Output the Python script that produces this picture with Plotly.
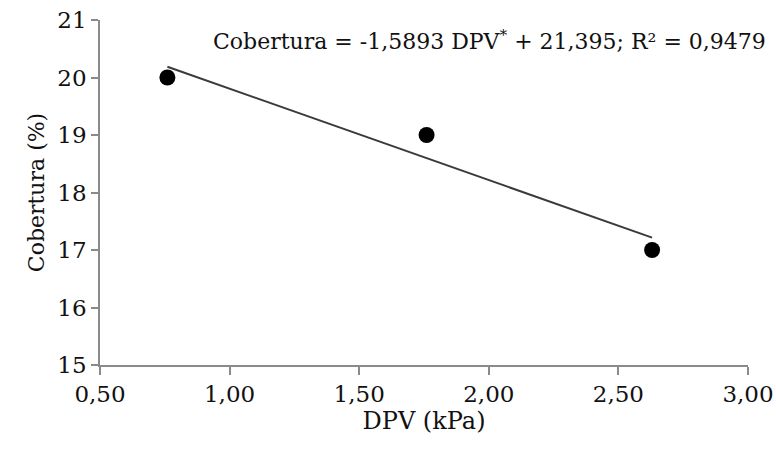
import plotly.graph_objects as go

# Data
dpv = [0.76, 1.76, 2.63]          # DPV (kPa)
cobertura = [20, 19, 17]          # Cobertura (%)
slope = -1.5893
intercept = 21.395
r2 = 0.9479

x_ticks = [0.5, 1.0, 1.5, 2.0, 2.5, 3.0]
y_ticks = [15, 16, 17, 18, 19, 20, 21]

trend_x = [min(dpv), max(dpv)]
trend_y = [slope * v + intercept for v in trend_x]

FONT = "DejaVu Serif"
AXIS_GRAY = "#8a8a8a"
TXT = "#111111"

L, R, T, B, W, H = 100, 28, 20, 89, 776, 454
pw, ph = W - L - R, H - T - B

fig = go.Figure()
fig.add_trace(go.Scatter(x=trend_x, y=trend_y, mode="lines",
                         line=dict(color="#3a3a3a", width=2), showlegend=False,
                         hoverinfo="skip"))
fig.add_trace(go.Scatter(x=dpv, y=cobertura, mode="markers",
                         marker=dict(color="black", size=16, symbol="circle"),
                         showlegend=False))

fig.add_annotation(
    x=(489 - L) / pw, y=(H - B - 40) / ph, xref="paper", yref="paper", showarrow=False,
    text="Cobertura = -1,5893 DPV<sup>*</sup> + 21,395; R² = 0,9479",
    font=dict(family=FONT, size=22, color=TXT),
    xanchor="center", yanchor="middle",
)

fig.update_layout(
    width=W, height=H,
    margin=dict(l=L, r=R, t=T, b=B),
    paper_bgcolor="white", plot_bgcolor="white",
    separators=",.",
    font=dict(family=FONT, size=23, color=TXT),
    xaxis=dict(
        range=[0.5, 3.0], tickvals=x_ticks, tickformat=".2f",
        showline=True, linecolor=AXIS_GRAY, linewidth=1.5,
        ticks="outside", ticklen=8, tickcolor=AXIS_GRAY, tickwidth=1.5,
        showgrid=False, zeroline=False,
        tickfont=dict(family=FONT, size=23, color=TXT),
        title=dict(text="DPV (kPa)", font=dict(family=FONT, size=24, color=TXT), standoff=4),
        automargin=False,
    ),
    yaxis=dict(
        range=[15, 21], tickvals=y_ticks,
        showline=True, linecolor=AXIS_GRAY, linewidth=1.5,
        ticks="outside", ticklen=7, tickcolor=AXIS_GRAY, tickwidth=1.5,
        showgrid=False, zeroline=False,
        tickfont=dict(family=FONT, size=23, color=TXT),
        title=dict(text="Cobertura (%)", font=dict(family=FONT, size=22, color=TXT), standoff=7),
        automargin=False,
    ),
)

fig.write_html("out.html")
